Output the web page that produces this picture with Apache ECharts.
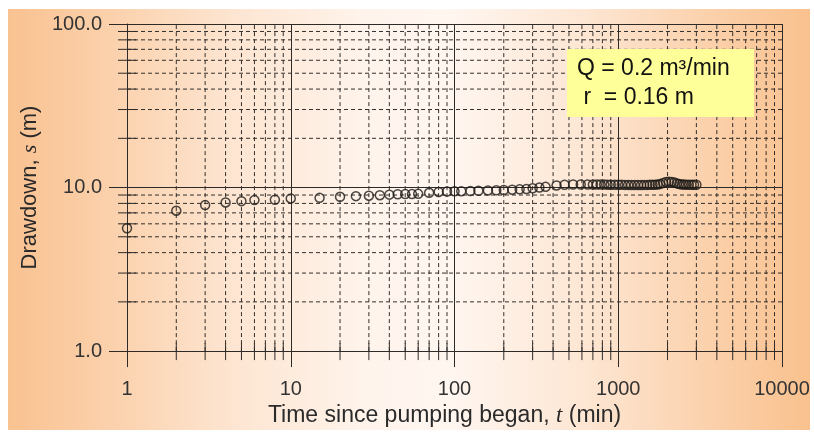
<!DOCTYPE html>
<html>
<head>
<meta charset="utf-8">
<script src="https://cdn.jsdelivr.net/npm/echarts@6/dist/echarts.min.js"></script>
<style>
  html, body { margin: 0; padding: 0; background: #ffffff; }
  #bg { position: absolute; left: 8px; top: 9px; width: 802px; height: 421px;
        background: linear-gradient(90deg, #f9c291 0%, #fbd0aa 12%, #fde5d1 28%, #fff4ec 45%, #fff6f0 55%, #fde6d3 72%, #fbd0aa 88%, #f9c18e 100%); }
  #chart { position: absolute; left: 0; top: 0; width: 814px; height: 432px; }
</style>
</head>
<body>
<div id="bg"></div>
<div id="chart"></div>
<script>
// ---- data ----
const times = [1, 2, 3, 4, 5, 6, 8, 10, 15, 20, 25, 30, 35, 40, 45, 50, 55, 60, 70, 80, 90, 100,
  110, 125, 140, 160, 180, 200, 225, 250, 275, 300, 330, 360, 420, 470, 530, 590, 650,
  700, 740, 780, 820, 860, 900, 950, 1000, 1050, 1100, 1150, 1200, 1260, 1320, 1380, 1440,
  1500, 1560, 1620, 1680, 1740, 1800, 1880, 1960, 2040, 2120, 2200, 2280, 2360, 2440, 2520,
  2600, 2700, 2800, 2900, 3000];
const drawdown = [5.64, 7.22, 7.81, 8.11, 8.26, 8.38, 8.42, 8.58, 8.65, 8.78, 8.86, 8.92, 8.98, 9.05, 9.1, 9.12, 9.12, 9.15, 9.29, 9.4, 9.45, 9.48,
  9.5, 9.52, 9.55, 9.6, 9.63, 9.66, 9.7, 9.75, 9.8, 9.9, 10.0, 10.1, 10.3, 10.4, 10.45, 10.45, 10.45,
  10.45, 10.45, 10.43, 10.43, 10.42, 10.4, 10.4, 10.4, 10.4, 10.38, 10.38, 10.37, 10.37, 10.37, 10.37, 10.38,
  10.38, 10.4, 10.4, 10.42, 10.45, 10.5, 10.65, 10.8, 10.85, 10.83, 10.75, 10.6, 10.5, 10.45, 10.43,
  10.42, 10.4, 10.4, 10.4, 10.4];
const xMin = 1, xMax = 10000, yMin = 1, yMax = 100;
const xMinorValues = [];
[1, 10, 100, 1000].forEach(d => { for (let k = 2; k <= 9; k++) xMinorValues.push(k * d); });
const yMinorValues = [];
[1, 10].forEach(d => { for (let k = 2; k <= 9; k++) yMinorValues.push(k * d); });
const noteLine1 = 'Q = 0.2 m³/min';
const noteLine2 = ' r  = 0.16 m';

// ---- chart ----
const chart = echarts.init(document.getElementById('chart'), null, { renderer: 'canvas' });
const lineColor = '#2e2a28';
const font = '"Liberation Sans", Arial, sans-serif';
const minorData = xMinorValues.map(v => [v, yMin, 0]).concat(yMinorValues.map(v => [xMin, v, 1]));

chart.setOption({
  backgroundColor: 'transparent',
  animation: false,
  grid: { left: 127, right: 32, top: 24, bottom: 78, containLabel: false },
  xAxis: {
    type: 'log', logBase: 10, min: xMin, max: xMax,
    name: 'Time since pumping began, {i|t} (min)',
    nameLocation: 'middle', nameGap: 45,
    nameTextStyle: { fontFamily: font, fontSize: 23, color: '#2a2a2a', padding: [0, 20, 0, 0],
      rich: { i: { fontFamily: '"Liberation Serif", "Times New Roman", serif', fontStyle: 'italic', fontSize: 23, color: '#2a2a2a' } } },
    axisLine: { show: true, lineStyle: { color: lineColor, width: 1 } },
    axisTick: { show: true, inside: false, length: 16, lineStyle: { color: lineColor, width: 1 } },
    axisLabel: { fontFamily: font, fontSize: 20, color: '#333', margin: 28, formatter: v => String(Math.round(v)) },
    splitLine: { show: true, lineStyle: { color: lineColor, width: 1, type: 'solid' } },
    minorTick: { show: false }, minorSplitLine: { show: false }
  },
  yAxis: {
    type: 'log', logBase: 10, min: yMin, max: yMax,
    name: 'Drawdown, {i|s} (m)',
    nameLocation: 'middle', nameGap: 84, nameRotate: 90,
    nameTextStyle: { fontFamily: font, fontSize: 22, color: '#2a2a2a',
      rich: { i: { fontFamily: '"Liberation Serif", "Times New Roman", serif', fontStyle: 'italic', fontSize: 22, color: '#2a2a2a' } } },
    axisLine: { show: true, lineStyle: { color: lineColor, width: 1 } },
    axisTick: { show: true, inside: false, length: 18, lineStyle: { color: lineColor, width: 1 } },
    axisLabel: { fontFamily: font, fontSize: 20, color: '#333', margin: 25, formatter: v => v.toFixed(1) },
    splitLine: { show: true, lineStyle: { color: lineColor, width: 1, type: 'solid' } },
    minorTick: { show: false }, minorSplitLine: { show: false }
  },
  series: [
    {
      type: 'custom',
      silent: true,
      clip: false,
      z: 1,
      data: minorData,
      renderItem: function (params, api) {
        const kind = api.value(2);
        const children = [];
        if (kind === 0) {
          const v = api.value(0);
          const p1 = api.coord([v, yMin]);
          const p2 = api.coord([v, yMax]);
          children.push({ type: 'line', shape: { x1: p1[0], y1: p1[1], x2: p2[0], y2: p2[1] },
            style: { stroke: '#332f2c', lineWidth: 1, lineDash: [4, 3] } });
          children.push({ type: 'line', shape: { x1: p1[0], y1: p1[1] - 8, x2: p1[0], y2: p1[1] + 9 },
            style: { stroke: lineColor, lineWidth: 1 } });
        } else {
          const v = api.value(1);
          const p1 = api.coord([xMin, v]);
          const p2 = api.coord([xMax, v]);
          children.push({ type: 'line', shape: { x1: p1[0], y1: p1[1], x2: p2[0], y2: p2[1] },
            style: { stroke: '#332f2c', lineWidth: 1, lineDash: [4, 3] } });
          children.push({ type: 'line', shape: { x1: p1[0] - 9, y1: p1[1], x2: p1[0] + 9, y2: p1[1] },
            style: { stroke: lineColor, lineWidth: 1 } });
        }
        return { type: 'group', children: children };
      }
    },
    {
      type: 'scatter',
      z: 5,
      data: times.map((t, i) => [t, drawdown[i]]),
      symbol: 'circle',
      symbolSize: 9,
      itemStyle: { color: 'rgba(0,0,0,0)', borderColor: '#1e1a18', borderWidth: 1.5 }
    }
  ],
  graphic: [
    {
      type: 'group', left: 567, top: 49, zlevel: 2, z: 100,
      children: [
        { type: 'rect', zlevel: 2, z: 100, shape: { x: 0, y: 0, width: 187, height: 68 }, style: { fill: '#ffff99', opacity: 1 } },
        { type: 'text', zlevel: 2, z: 101, x: 10, y: 20, style: { text: noteLine1, font: '23px ' + font, fill: '#111', verticalAlign: 'middle', opacity: 1 } },
        { type: 'text', zlevel: 2, z: 101, x: 10, y: 49, style: { text: noteLine2, font: '23px ' + font, fill: '#111', verticalAlign: 'middle', opacity: 1 } }
      ]
    }
  ]
});
</script>
</body>
</html>
